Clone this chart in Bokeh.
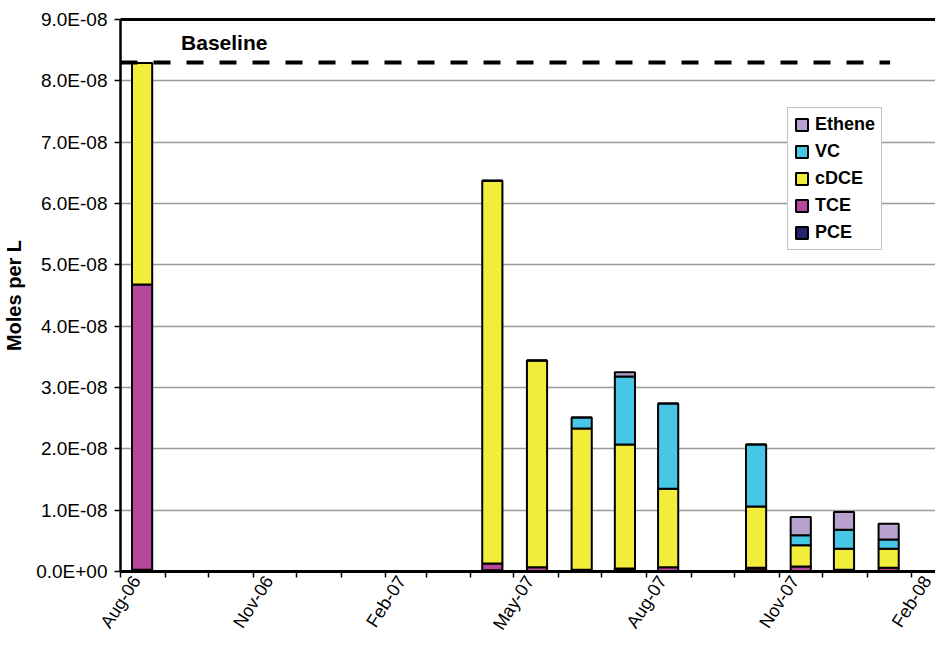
from datetime import datetime

import pandas as pd
from bokeh.plotting import figure
from bokeh.models import (ColumnDataSource, Range1d, FixedTicker, DatetimeAxis,
                          DatetimeTickFormatter, CustomJSTickFormatter, Legend,
                          LegendItem, Label)
from bokeh.embed import file_html
from bokeh.resources import INLINE

# ---------------- data ----------------
sample_dates = ["2006-08-16", "2007-04-16", "2007-05-17", "2007-06-17", "2007-07-17",
                "2007-08-16", "2007-10-16", "2007-11-16", "2007-12-16", "2008-01-16"]
pce    = [0.03e-8, 0.02e-8, 0.01e-8, 0.01e-8, 0.02e-8, 0.01e-8, 0.02e-8, 0.01e-8, 0.02e-8, 0.01e-8]
tce    = [4.65e-8, 0.11e-8, 0.06e-8, 0.02e-8, 0.03e-8, 0.06e-8, 0.04e-8, 0.07e-8, 0.01e-8, 0.05e-8]
cdce   = [3.61e-8, 6.24e-8, 3.37e-8, 2.30e-8, 2.02e-8, 1.28e-8, 1.00e-8, 0.35e-8, 0.34e-8, 0.31e-8]
vc     = [0.0,     0.0,     0.0,     0.18e-8, 1.11e-8, 1.39e-8, 1.01e-8, 0.16e-8, 0.31e-8, 0.15e-8]
ethene = [0.0,     0.0,     0.0,     0.0,     0.07e-8, 0.0,     0.0,     0.30e-8, 0.29e-8, 0.26e-8]

series = ["PCE", "TCE", "cDCE", "VC", "Ethene"]
colors = ["#23236E", "#B5479C", "#F2EC3B", "#47C6E6", "#B9A1CF"]

baseline_value = 8.3e-8
baseline_dates = ["2006-08-01", "2008-01-17"]

y_ticks = [0.0, 1e-8, 2e-8, 3e-8, 4e-8, 5e-8, 6e-8, 7e-8, 8e-8, 9e-8]
x_major_ticks = ["2006-08-01", "2006-11-01", "2007-02-01", "2007-05-01",
                 "2007-08-01", "2007-11-01", "2008-02-01"]
x_minor_ticks = [d.strftime("%Y-%m-%d") for d in pd.date_range("2006-08-01", "2008-02-01", freq="MS")]

x_start = datetime(2006, 8, 1)
x_end = datetime(2008, 2, 17, 12)
y_start, y_end = 0.0, 9e-8

# ---------------- figure ----------------
def ms(s):
    return pd.Timestamp(s).value / 1e6

FONT = "Liberation Sans"

source = ColumnDataSource(dict(
    date=pd.to_datetime(sample_dates),
    PCE=pce, TCE=tce, cDCE=cdce, VC=vc, Ethene=ethene,
))

p = figure(width=935, height=644, x_axis_type="datetime",
           x_range=Range1d(x_start, x_end), y_range=Range1d(y_start, y_end),
           output_backend="svg", toolbar_location=None,
           min_border_left=115, min_border_right=0, min_border_top=19, min_border_bottom=73)
p.outline_line_color = None
p.background_fill_color = "white"
p.border_fill_color = "white"

# gridlines
p.xgrid.grid_line_color = None
p.ygrid.grid_line_color = "#9a9a9a"
p.ygrid.grid_line_width = 1.5
p.ygrid.ticker = FixedTicker(ticks=y_ticks)

bar_width = 14 * 24 * 3600 * 1000
renderers = p.vbar_stack(series, x="date", width=bar_width, source=source,
                         color=colors, line_color="black", line_width=2)

# baseline dashed line
p.line(x=pd.to_datetime(baseline_dates), y=[baseline_value, baseline_value],
       line_color="black", line_width=4, line_dash="17 16")
p.add_layout(Label(x=ms("2006-09-12"), y=8.62e-8, text="Baseline",
                   text_font=FONT, text_font_style="bold", text_font_size="21px",
                   text_color="black", text_baseline="alphabetic"))

# y axis
yax = p.yaxis[0]
yax.ticker = FixedTicker(ticks=y_ticks)
yax.formatter = CustomJSTickFormatter(code="""
    const s = tick.toExponential(1);
    const parts = s.split('e');
    const sign = parts[1][0];
    let d = parts[1].slice(1);
    if (d.length < 2) { d = '0' + d; }
    return parts[0] + 'E' + sign + d;
""")
yax.axis_label = "Moles per L"
yax.axis_label_text_font = FONT
yax.axis_label_text_font_style = "bold"
yax.axis_label_text_font_size = "20px"
yax.axis_label_text_color = "black"
yax.axis_label_standoff = 8
yax.major_label_text_font = FONT
yax.major_label_text_font_size = "19px"
yax.major_label_text_color = "black"
yax.major_label_standoff = 7
yax.axis_line_width = 2.5
yax.axis_line_color = "black"
yax.major_tick_out = 6
yax.major_tick_in = 0
yax.major_tick_line_width = 1.5
yax.minor_tick_line_color = None

# x axis: line + monthly tick marks (all the same length, as in the original)
xax = p.xaxis[0]
xax.ticker = FixedTicker(ticks=[], minor_ticks=[ms(d) for d in x_minor_ticks])
xax.major_label_standoff = 0
xax.axis_line_width = 3
xax.axis_line_color = "black"
xax.major_tick_out = 6
xax.major_tick_in = 0
xax.minor_tick_out = 6
xax.minor_tick_in = 0
xax.major_tick_line_width = 1.5
xax.minor_tick_line_width = 1.5
xax.minor_tick_line_color = "black"

# quarterly date labels, centred under their tick as in the original
fmt = "%b-%y"
label_shift = pd.Timedelta(days=11)
label_axis = DatetimeAxis(
    ticker=FixedTicker(ticks=[ms(pd.Timestamp(d) + label_shift) for d in x_major_ticks]),
    formatter=DatetimeTickFormatter(microseconds=fmt, milliseconds=fmt, seconds=fmt,
                                    minsec=fmt, minutes=fmt, hourmin=fmt, hours=fmt,
                                    days=fmt, months=fmt, years=fmt),
    axis_line_color=None, major_tick_line_color=None, minor_tick_line_color=None,
    major_tick_out=0, major_tick_in=0, minor_tick_out=0, minor_tick_in=0,
    major_label_orientation=1.0, major_label_standoff=0,
    major_label_text_font=FONT, major_label_text_font_size="18px",
    major_label_text_color="black")
p.add_layout(label_axis, "below")

# top border drawn as a plain axis above
top = DatetimeAxis(ticker=FixedTicker(ticks=[]), axis_line_width=3, axis_line_color="black",
                   major_tick_out=0, major_tick_in=0, minor_tick_out=0, minor_tick_in=0)
p.add_layout(top, "above")

# legend
items = [LegendItem(label=name, renderers=[r]) for name, r in zip(series, renderers)][::-1]
legend = Legend(items=items, location=(667, 321),
                label_text_font=FONT, label_text_font_style="bold",
                label_text_font_size="18px", label_text_color="black",
                glyph_width=15, glyph_height=15, label_height=20, spacing=6,
                padding=6, margin=0, label_standoff=6,
                border_line_color="#888888", border_line_width=1.5,
                background_fill_color="white", background_fill_alpha=1.0)
p.add_layout(legend, "center")

open("out.html", "w").write(file_html(p, INLINE))
